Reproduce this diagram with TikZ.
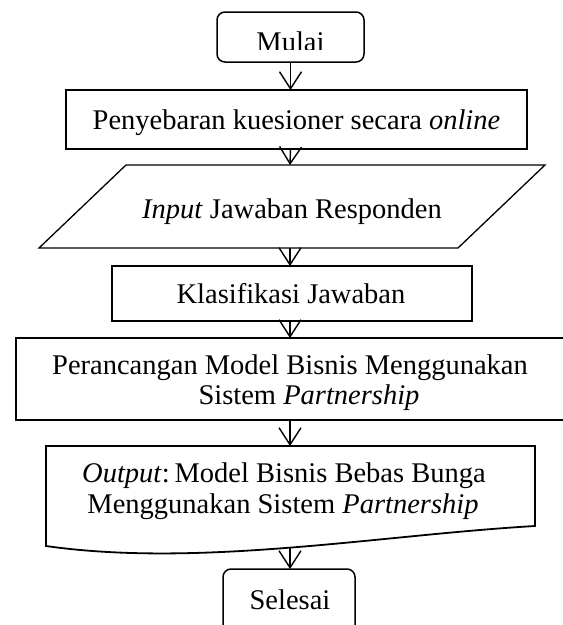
\documentclass[tikz,border=0pt]{standalone}
\usepackage{fontspec}
\setmainfont{Liberation Serif}
\usetikzlibrary{arrows.meta}
\begin{document}
\begin{tikzpicture}[x=1pt,y=-1pt,
  font=\fontsize{28.5}{31}\selectfont,
  shapebox/.style={draw, line width=1.1pt, inner sep=0pt, outer sep=0pt},
  termbox/.style={draw, line width=1.5pt, rounded corners=8pt, inner sep=0pt, outer sep=0pt},
  lbl/.style={anchor=base, inner sep=0pt},
  arr/.style={line width=1.4pt, -{Straight Barb[length=17pt,width=22pt,line width=1.4pt]}}]
\useasboundingbox (0,0) rectangle (563,625);
\fill[white] (0,0) rectangle (563,625);

% Mulai
\node[termbox, minimum width=147pt, minimum height=50pt] (m) at (290.5,37) {};
\begin{scope}
  \clip (217,12) rectangle (364,49.5);
  \node[lbl] (mt) at (290.5,51) {Mulai};
\end{scope}

% Penyebaran
\node[shapebox, minimum width=461pt, minimum height=59pt] (b1) at (296.5,119.5) {};
\node[lbl] (b1t) at (296.5,129) {Penyebaran kuesioner secara \textit{online}};

% Input parallelogram
\draw[line width=1.3pt] (126,165) -- (545,165) -- (458,248) -- (39,248) -- cycle;
\coordinate (inT) at (290,165);
\coordinate (inB) at (290,248);
\node[lbl] (int) at (292,218) {\textit{Input} Jawaban Responden};

% Klasifikasi
\node[shapebox, minimum width=360pt, minimum height=55pt] (b2) at (292,293.5) {};
\node[lbl] (b2t) at (291,303) {Klasifikasi Jawaban};

% Perancangan
\node[shapebox, minimum width=550pt, minimum height=82pt] (b3) at (291,379) {};
\node[lbl] (b3t1) at (290,374) {Perancangan Model Bisnis Menggunakan};
\node[lbl] (b3t2) at (309,404) {Sistem \textit{Partnership}};

% Output document
\draw[line width=1.8pt] (46,446) -- (535,446) -- (535,526)
   .. controls (380,535) and (200,568) .. (46,546) -- cycle;
\coordinate (outT) at (290,446);
\coordinate (outB) at (290,547);
\node[lbl] (ot1) at (284,482) {\textit{Output}:\,Model Bisnis Bebas Bunga};
\node[lbl] (ot2) at (283,513) {Menggunakan Sistem \textit{Partnership}};

% Selesai
\node[termbox, minimum width=132pt, minimum height=72pt] (s) at (289,605) {};
\node[lbl] (st) at (290,609) {Selesai};

% arrows
\draw[arr] (m.south) -- (m.south |- b1.north);
\draw[arr] (m.south |- b1.south) -- (inT);
\draw[arr] (inB) -- (inB |- b2.north);
\draw[arr] (inB |- b2.south) -- (inB |- b3.north);
\draw[arr] (inB |- b3.south) -- (outT);
\draw[arr] (outB) -- (outB |- s.north);
\end{tikzpicture}
\end{document}
